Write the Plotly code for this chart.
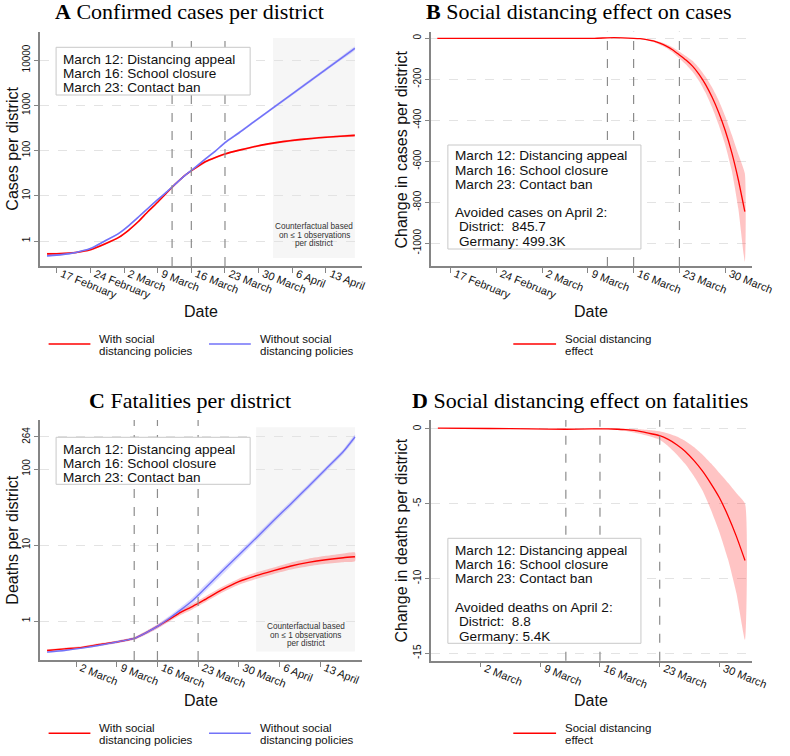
import plotly.graph_objects as go

W, H = 790, 756
def px(x): return x / W
def py(y): return 1 - y / H

# ---------------- data ----------------
# Panel A: confirmed cases per district (log scale)
a_dates = ["2020-02-15", "2020-02-18", "2020-02-21", "2020-02-24", "2020-02-27", "2020-03-01",
           "2020-03-03", "2020-03-05", "2020-03-07", "2020-03-09", "2020-03-11", "2020-03-13",
           "2020-03-15", "2020-03-17", "2020-03-19", "2020-03-21", "2020-03-23", "2020-03-26",
           "2020-03-29", "2020-04-01", "2020-04-04", "2020-04-07", "2020-04-10", "2020-04-13",
           "2020-04-16", "2020-04-19"]
a_with = [0.52, 0.53, 0.56, 0.64, 0.86, 1.22, 1.75, 2.7, 4.5, 7.2, 12, 19.5, 30, 42, 57, 70, 84,
          102, 121, 140, 157, 172, 185, 197, 207, 216]
a_with_lo = [0.49, 0.5, 0.53, 0.61, 0.82, 1.16, 1.67, 2.57, 4.3, 6.9, 11.5, 18.7, 28.7, 40, 54, 67,
             80, 97, 115, 133, 149, 163, 176, 187, 196, 204]
a_with_hi = [0.55, 0.56, 0.59, 0.67, 0.9, 1.28, 1.83, 2.83, 4.7, 7.5, 12.5, 20.3, 31.3, 44, 60, 73,
             88, 107, 127, 147, 165, 181, 194, 207, 218, 228]
a_without = [0.47, 0.5, 0.56, 0.68, 1.0, 1.5, 2.2, 3.4, 5.3, 8.2, 12.5, 19.5, 30, 44, 66, 97, 150,
             250, 430, 730, 1250, 2130, 3640, 6220, 10600, 18100]
a_without_lo = [0.45, 0.48, 0.54, 0.65, 0.96, 1.44, 2.1, 3.25, 5.1, 7.9, 12, 18.7, 28.8, 42, 63, 92,
                142, 236, 404, 682, 1160, 1970, 3350, 5700, 9700, 16500]
a_without_hi = [0.49, 0.52, 0.58, 0.71, 1.04, 1.56, 2.3, 3.55, 5.5, 8.5, 13, 20.3, 31.2, 46, 69, 102,
                158, 265, 458, 780, 1345, 2300, 3950, 6780, 11600, 19900]

# Panel B: social distancing effect on cases
b_dates = ["2020-02-15", "2020-02-25", "2020-03-05", "2020-03-10", "2020-03-13", "2020-03-16",
           "2020-03-17", "2020-03-18", "2020-03-19", "2020-03-20", "2020-03-21", "2020-03-22",
           "2020-03-23", "2020-03-24", "2020-03-25", "2020-03-26", "2020-03-27", "2020-03-28",
           "2020-03-29", "2020-03-30", "2020-03-31", "2020-04-01", "2020-04-02"]
b_effect = [0, 0, 0, 0, 3, 0, -2, -6, -13, -24, -38, -57, -81, -106, -136, -176, -226, -288,
            -362, -450, -558, -690, -846]
b_lo = [0, 0, 0, 0, 1, -1, -4, -9, -18, -31, -47, -69, -98, -128, -163, -208, -266, -338,
        -422, -520, -645, -830, -1090]
b_hi = [0, 0, 0, 0, 5, 1, 0, -3, -8, -17, -29, -45, -65, -86, -110, -145, -188, -240,
        -303, -380, -470, -565, -660]

# Panel C: fatalities per district (log scale)
c_dates = ["2020-02-26", "2020-02-29", "2020-03-03", "2020-03-06", "2020-03-09", "2020-03-12",
           "2020-03-14", "2020-03-16", "2020-03-18", "2020-03-20", "2020-03-22", "2020-03-24",
           "2020-03-27", "2020-03-30", "2020-04-02", "2020-04-05", "2020-04-08", "2020-04-11",
           "2020-04-14", "2020-04-17", "2020-04-19"]
c_with = [0.41, 0.43, 0.45, 0.49, 0.53, 0.59, 0.7, 0.85, 1.05, 1.3, 1.55, 1.88, 2.55, 3.3, 3.95,
          4.6, 5.3, 5.9, 6.4, 6.8, 7.0]
c_with_lo = [0.395, 0.415, 0.435, 0.47, 0.51, 0.565, 0.665, 0.8, 0.98, 1.2, 1.42, 1.72, 2.33, 3.0,
             3.57, 4.15, 4.75, 5.25, 5.65, 5.95, 6.1]
c_with_hi = [0.425, 0.445, 0.465, 0.51, 0.55, 0.615, 0.735, 0.9, 1.12, 1.4, 1.68, 2.05, 2.78, 3.6,
             4.35, 5.05, 5.9, 6.6, 7.2, 7.75, 8.0]
c_without = [0.39, 0.41, 0.44, 0.48, 0.53, 0.59, 0.7, 0.85, 1.08, 1.4, 1.85, 2.6, 4.4, 7.4, 12.4,
             21, 35, 59, 100, 170, 264]
c_without_lo = [0.38, 0.4, 0.43, 0.465, 0.51, 0.565, 0.665, 0.8, 1.0, 1.28, 1.68, 2.35, 3.95, 6.7,
                11.3, 19.2, 32.2, 54.5, 93, 158, 246]
c_without_hi = [0.40, 0.42, 0.45, 0.495, 0.55, 0.615, 0.735, 0.9, 1.16, 1.52, 2.02, 2.88, 4.85, 8.1,
                13.5, 22.8, 38, 63.5, 107, 182, 282]

# Panel D: social distancing effect on fatalities
d_dates = ["2020-02-26", "2020-03-03", "2020-03-08", "2020-03-12", "2020-03-15", "2020-03-17",
           "2020-03-18", "2020-03-19", "2020-03-20", "2020-03-21", "2020-03-22", "2020-03-23",
           "2020-03-24", "2020-03-25", "2020-03-26", "2020-03-27", "2020-03-28", "2020-03-29",
           "2020-03-30", "2020-03-31", "2020-04-01", "2020-04-02"]
d_effect = [0.05, 0.03, 0.01, -0.02, 0.0, 0.0, -0.02, -0.05, -0.1, -0.2, -0.32, -0.45, -0.7,
            -1.05, -1.5, -2.1, -2.8, -3.65, -4.6, -5.8, -7.2, -8.8]
d_lo = [0.05, 0.03, 0.01, -0.02, -0.01, -0.03, -0.07, -0.13, -0.24, -0.37, -0.52, -0.72, -1.15,
        -1.7, -2.35, -3.15, -4.1, -5.4, -6.9, -8.7, -11.0, -14.1]
d_hi = [0.05, 0.03, 0.01, -0.02, 0.01, 0.03, 0.03, 0.02, 0.0, -0.03, -0.08, -0.15, -0.3, -0.5,
        -0.8, -1.2, -1.7, -2.3, -2.95, -3.6, -4.3, -5.0]

# ticks
a_tickvals = ["2020-02-17", "2020-02-24", "2020-03-02", "2020-03-09", "2020-03-16", "2020-03-23",
              "2020-03-30", "2020-04-06", "2020-04-13"]
a_ticktext = ["17 February", "24 February", "2 March", "9 March", "16 March", "23 March",
              "30 March", "6 April", "13 April"]
b_tickvals = a_tickvals[:7]
b_ticktext = a_ticktext[:7]
c_tickvals = a_tickvals[2:]
c_ticktext = a_ticktext[2:]
d_tickvals = a_tickvals[2:7]
d_ticktext = a_ticktext[2:7]
a_yticks = [1, 10, 100, 1000, 10000]
b_yticks = [0, -200, -400, -600, -800, -1000]
c_yticks = [1, 10, 100, 264]
d_yticks = [0, -5, -10, -15]
policy_dates = ["2020-03-12", "2020-03-16", "2020-03-23"]
policy_text = ["March 12: Distancing appeal", "March 16: School closure", "March 23: Contact ban"]

# ---------------- styling ----------------
RED = "#ff0000"
BLUE = "#7272f8"
RED_BAND = "rgba(255,60,60,0.30)"
BLUE_BAND = "rgba(110,110,255,0.25)"
SANS = "Liberation Sans, Arial, sans-serif"
SERIF = "Liberation Serif, Times New Roman, serif"
AXC = "#858585"

fig = go.Figure()

def band(xs, lo, hi, color, n):
    fig.add_trace(go.Scatter(x=list(xs) + list(xs)[::-1], y=list(hi) + list(lo)[::-1],
                             fill="toself", fillcolor=color, mode="lines",
                             line=dict(width=0, shape="spline", smoothing=0.5),
                             xaxis="x" + n, yaxis="y" + n, hoverinfo="skip", showlegend=False))

def line(xs, ys, color, n, w=1.6):
    fig.add_trace(go.Scatter(x=xs, y=ys, mode="lines",
                             line=dict(color=color, width=w, shape="spline", smoothing=0.5),
                             xaxis="x" + n, yaxis="y" + n, showlegend=False))

band(a_dates, a_with_lo, a_with_hi, RED_BAND, "")
band(a_dates, a_without_lo, a_without_hi, BLUE_BAND, "")
line(a_dates, a_with, RED, "")
line(a_dates, a_without, BLUE, "")

band(b_dates, b_lo, b_hi, RED_BAND, "2")
line(b_dates, b_effect, RED, "2", 1.3)

band(c_dates, c_with_lo, c_with_hi, RED_BAND, "3")
band(c_dates, c_without_lo, c_without_hi, BLUE_BAND, "3")
line(c_dates, c_with, RED, "3", 1.4)
line(c_dates, c_without, BLUE, "3", 1.4)

band(d_dates, d_lo, d_hi, RED_BAND, "4")
line(d_dates, d_effect, RED, "4", 1.3)

def xax(dom, rng, tv, tt, anchor):
    return dict(domain=dom, range=rng, type="date", tickmode="array", tickvals=tv, ticktext=tt,
                tickangle=22, tickfont=dict(family=SANS, size=11, color="#111"),
                ticklabelstandoff=-9, ticklabelshift=5,
                showline=True, linecolor=AXC, linewidth=1.5, ticks="outside", ticklen=5,
                tickcolor=AXC, showgrid=False, zeroline=False, anchor=anchor, fixedrange=True)

def yax(dom, rng, tv, typ, anchor):
    return dict(domain=dom, range=rng, type=typ, tickmode="array", tickvals=tv,
                ticktext=[str(v) for v in tv], tickangle=-90,
                tickfont=dict(family=SANS, size=10, color="#111"),
                showline=True, linecolor=AXC, linewidth=1.5, ticks="outside", ticklen=4,
                tickcolor=AXC, showgrid=True, gridcolor="#e3e3e3", griddash="dash", gridwidth=1,
                zeroline=False, anchor=anchor, fixedrange=True)

fig.update_layout(
    width=W, height=H, margin=dict(l=0, r=0, t=0, b=0),
    paper_bgcolor="white", plot_bgcolor="white", showlegend=False, hovermode=False,
    xaxis=xax([px(40.7), px(372)], ["2020-02-13 10:33", "2020-04-20 10:05"], a_tickvals, a_ticktext, "y"),
    yaxis=yax([py(266), py(32)], [-0.552, 4.619], a_yticks, "log", "x"),
    xaxis2=xax([px(443.3), px(774)], ["2020-02-14 00:43", "2020-04-03 03:50"], b_tickvals, b_ticktext, "y2"),
    yaxis2=yax([py(266), py(31.7)], [-1110.7, 32.2], b_yticks, "linear", "x2"),
    xaxis3=xax([px(40.7), px(372.3)], ["2020-02-24 17:00", "2020-04-20 04:50"], c_tickvals, c_ticktext, "y3"),
    yaxis3=yax([py(660), py(420)], [-0.513, 2.645], c_yticks, "log", "x3"),
    xaxis4=xax([px(443.3), px(774)], ["2020-02-25 04:33", "2020-04-02 20:53"], d_tickvals, d_ticktext, "y4"),
    yaxis4=yax([py(660.7), py(420)], [-15.5, 0.6], d_yticks, "linear", "x4"),
)

shapes = []
anns = []

# counterfactual shaded regions
for n, y0, y1 in [("", 0.034, 0.974), ("3", 0.035, 0.970)]:
    shapes.append(dict(type="rect", xref="x" + n, yref=("y" + n) + " domain",
                       x0="2020-04-02", x1="2020-04-19", y0=y0, y1=y1,
                       fillcolor="#f6f6f6", line=dict(width=0), layer="below"))

# policy lines
for n in ["", "2", "3", "4"]:
    for d in policy_dates:
        shapes.append(dict(type="line", xref="x" + n, yref=("y" + n) + " domain",
                           x0=d, x1=d, y0=0, y1=1,
                           line=dict(color="#8c8c8c", width=1.2, dash="dash"), layer="above"))

def box(x0, y0, x1, y1):
    shapes.append(dict(type="rect", xref="paper", yref="paper", x0=px(x0), x1=px(x1),
                       y0=py(y1), y1=py(y0), fillcolor="white",
                       line=dict(color="#c8c8c8", width=1), layer="above"))

def txt(x, y, s, size=14, xanchor="left", font=SANS, color="#111", angle=0):
    anns.append(dict(x=px(x), y=py(y), xref="paper", yref="paper", text=s, showarrow=False,
                     xanchor=xanchor, yanchor="middle", textangle=angle,
                     font=dict(family=font, size=size, color=color)))

BOX_FS = 13.6
# info boxes
box(57.7, 47.3, 257.3, 95)
for i, s in enumerate(policy_text):
    txt(63, 59.5 + 14 * i, s, size=BOX_FS)
box(57.7, 437.3, 257.3, 484.3)
for i, s in enumerate(policy_text):
    txt(63, 449 + 14 * i, s, size=BOX_FS)
box(460.7, 145, 659.3, 249)
for i, s in enumerate(policy_text):
    txt(466, 156 + 14 * i, s, size=BOX_FS)
txt(466, 212.7, "Avoided cases on April 2:", size=BOX_FS)
txt(470, 227, "District:\u00a0 845.7", size=BOX_FS)
txt(470, 241, "Germany: 499.3K", size=BOX_FS)
box(460.7, 538.3, 659.3, 643.3)
for i, s in enumerate(policy_text):
    txt(466, 550.5 + 14 * i, s, size=BOX_FS)
txt(466, 607.3, "Avoided deaths on April 2:", size=BOX_FS)
txt(470, 621.7, "District:\u00a0 8.8", size=BOX_FS)
txt(470, 636, "Germany: 5.4K", size=BOX_FS)

# counterfactual notes
for cx, cy in [(323, 226.7), (314.3, 626.7)]:
    for i, s in enumerate(["Counterfactual based", "on \u2264 1 observations", "per district"]):
        txt(cx, cy + 8.3 * i, s, size=8.2, xanchor="center", color="#333")

# titles
txt(195, 12, "<b>A</b> Confirmed cases per district", size=22, xanchor="center", font=SERIF, color="#000")
txt(596, 12, "<b>B</b> Social distancing effect on cases", size=22, xanchor="center", font=SERIF, color="#000")
txt(195, 400, "<b>C</b> Fatalities per district", size=22, xanchor="center", font=SERIF, color="#000")
txt(597, 400, "<b>D</b> Social distancing effect on fatalities", size=22, xanchor="center", font=SERIF, color="#000")

# axis titles
txt(12, 149, "Cases per district", size=16, xanchor="center", angle=-90)
txt(413, 149, "Change in cases per district", size=16, xanchor="center", angle=-90)
txt(12, 540, "Deaths per district", size=16, xanchor="center", angle=-90)
txt(413, 540, "Change in deaths per district", size=16, xanchor="center", angle=-90)
for x, y in [(206.7, 311.7), (608, 311.7), (206.7, 700), (608, 700.7)]:
    txt(x, y, "Date", size=16, xanchor="center")

# legends
def leg_line(x0, x1, y, color):
    shapes.append(dict(type="line", xref="paper", yref="paper", x0=px(x0), x1=px(x1),
                       y0=py(y), y1=py(y), line=dict(color=color, width=1.6)))

for ly in [344, 733.3]:
    leg_line(50, 93, ly, RED)
    txt(100, ly - 5, "With social", size=11.5)
    txt(100, ly + 6.5, "distancing policies", size=11.5)
    leg_line(215, 258, ly, BLUE)
    txt(265, ly - 5, "Without social", size=11.5)
    txt(265, ly + 6.5, "distancing policies", size=11.5)
    leg_line(528, 572, ly, RED)
    txt(579, ly - 5, "Social distancing", size=11.5)
    txt(579, ly + 6.5, "effect", size=11.5)

fig.update_layout(shapes=shapes, annotations=anns)
fig.write_html("out.html", config={"displayModeBar": False},
               post_script="document.body.style.margin='0';")
